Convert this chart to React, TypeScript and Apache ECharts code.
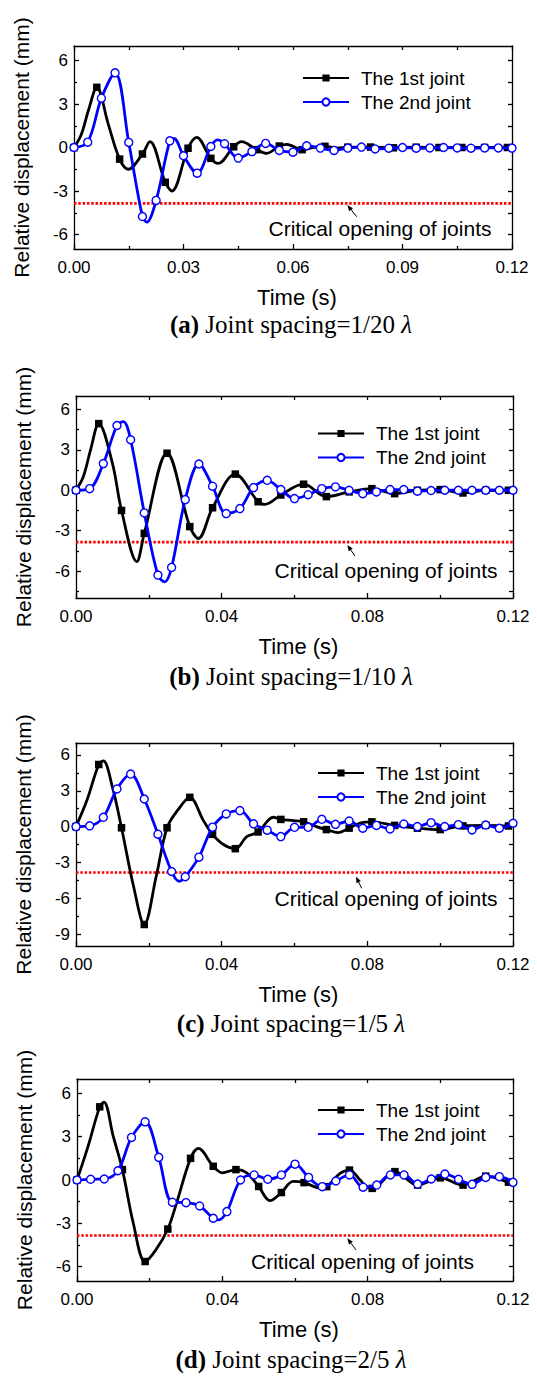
import React, { useEffect, useRef } from 'react';
import * as echarts from 'echarts';

const SANS = "'Liberation Sans', Arial, Helvetica, sans-serif";
const SERIF = "'Liberation Serif', 'Times New Roman', serif";

// ---- data: [time (ms), relative displacement (mm)] ----
// (a) Joint spacing = 1/20 lambda
const a1 = [[0,0],[2,0.9],[4,2.6],[6.25,4.15],[9.4,1.6],[12.5,-0.8],[14.9,-1.5],[18.75,-0.45],[20.8,0.4],[25,-2.4],[26.8,-3.0],[31.25,-0.05],[33.6,0.7],[37.5,-0.75],[39.5,-1.1],[43.75,0.05],[45.9,0.4],[50,-0.15],[52.8,-0.4],[56.25,0.1],[58.3,0.22],[62.5,-0.15],[65.5,0.0],[68.75,0.08],[72,-0.04],[75,0.02],[81.25,0.03],[87.5,-0.02],[93.75,0.02],[100,0],[106.25,0],[112.5,0],[118.75,0],[120,0]];
const a2 = [[0,0],[3.75,0.37],[7.5,3.4],[11.25,5.15],[15,0.35],[18.75,-4.76],[19.9,-5.15],[22.5,-3.65],[26.25,0.46],[27.4,0.62],[30,-0.57],[33.75,-1.77],[37.5,0.07],[39.3,0.52],[41.25,0.26],[45,-0.73],[48.75,-0.28],[52.5,0.28],[56.25,-0.2],[60,-0.32],[63.75,0.12],[67.5,-0.04],[71.25,-0.2],[75,-0.04],[78.75,0.03],[82.5,-0.1],[86.25,-0.05],[90,0],[93.75,-0.05],[97.5,-0.03],[101.25,0],[105,-0.03],[108.75,-0.05],[112.5,-0.03],[116.25,-0.03],[120,-0.04]];
// (b) Joint spacing = 1/10 lambda
const b1 = [[0,0],[2,1.0],[4,3.0],[6.25,4.95],[10,2.0],[12.5,-1.5],[16.7,-5.3],[18.75,-3.2],[25,2.75],[31.25,-2.7],[33.6,-3.58],[37.5,-1.3],[43.75,1.2],[50,-0.85],[51.9,-1.05],[56.25,-0.35],[62.5,0.45],[68.75,-0.47],[75,-0.12],[81.25,0.12],[87.5,-0.25],[93.75,0],[100,0.05],[106.25,-0.2],[112.5,0],[118.75,0],[120,0]];
const b2 = [[0,0],[3.75,0.12],[7.5,1.98],[11.25,4.81],[13,5.1],[15,3.75],[18.75,-1.68],[22.5,-6.3],[24.4,-6.8],[26.25,-5.73],[30,-0.69],[33.75,1.95],[37.5,0.3],[41.25,-1.73],[45,-1.36],[48.75,0.2],[52.5,0.74],[56.25,0.05],[60,-0.62],[63.75,-0.33],[67.5,0.12],[71.25,0.25],[75,0],[78.75,-0.25],[82.5,-0.12],[86.25,0.05],[90,0.05],[93.75,-0.07],[97.5,-0.02],[101.25,0],[105,0],[108.75,0],[112.5,0],[116.25,0],[120,0]];
// (c) Joint spacing = 1/5 lambda
const c1 = [[0,0],[3,2.2],[6.25,5.2],[7.5,5.5],[10,3.3],[12.5,-0.1],[15.8,-5.0],[18.75,-8.2],[22,-4.2],[25,-0.1],[28,1.4],[31.25,2.45],[35,0.5],[37.5,-0.65],[40.5,-1.5],[43.75,-1.85],[46.9,-0.84],[50,-0.45],[54.2,0.78],[56.25,0.6],[59.7,0.5],[62.5,0.4],[66,0],[68.75,-0.25],[72,-0.5],[75,-0.13],[78,0.3],[81.25,0.4],[87.5,0.1],[93.75,-0.13],[100,-0.25],[106.25,0.06],[112.5,0.1],[118.75,0.05],[120,0.1]];
const c2 = [[0,0],[3.75,0.06],[7.5,0.78],[11.25,3.15],[15,4.4],[18.75,2.31],[22.5,-0.64],[26.25,-3.76],[28.4,-4.59],[30,-4.2],[33.75,-2.56],[37.5,-0.05],[41.25,1.06],[45,1.34],[48.75,0.23],[52.5,-0.3],[56.25,-0.84],[60,-0.06],[63.75,-0.06],[67.5,0.61],[71.25,0.19],[75,0.47],[78.75,-0.14],[82.5,0.1],[86.25,-0.2],[90,0.22],[93.75,0],[97.5,0.33],[101.25,0],[105,0.16],[108.75,-0.28],[112.5,0.13],[116.25,-0.14],[120,0.28]];
// (d) Joint spacing = 2/5 lambda
const d1 = [[0,0],[3,2.3],[6.25,5.07],[7.4,5.4],[10,3.0],[12.5,0.72],[15.5,-3.0],[18.75,-5.65],[21.7,-4.84],[25,-3.4],[27.4,-1.6],[31.25,1.5],[33.4,2.19],[37.5,0.95],[40,0.5],[43.75,0.72],[46.7,0.5],[50,-0.45],[53.1,-1.43],[56.25,-0.87],[59.5,-0.1],[62.5,-0.18],[66.9,-0.55],[68.75,-0.46],[72.4,0.46],[75,0.69],[77.9,0],[79.7,-0.46],[81.25,-0.58],[87.5,0.58],[93.75,-0.35],[100,0.15],[106.25,-0.35],[112.5,0.27],[118.75,-0.15],[120,-0.2]];
const d2 = [[0,0],[3.75,0.05],[7.5,0.07],[11.25,0.64],[15,2.95],[18.75,4.03],[22.5,1.57],[26.25,-1.54],[30,-1.57],[33.75,-1.8],[37.5,-2.65],[39,-2.76],[41.25,-2.19],[45,0],[48.75,0.35],[52.5,0.05],[56.25,0.35],[60,1.1],[63.75,0.18],[67.5,-0.46],[71.25,-0.07],[75,0.35],[78.75,-0.5],[82.5,-0.35],[86.25,0.35],[90,0.35],[93.75,-0.28],[97.5,0.07],[101.25,0.41],[105,0.05],[108.75,-0.3],[112.5,0.18],[116.25,0.23],[120,-0.16]];

const joint1 = [a1, b1, c1, d1];
const joint2 = [a2, b2, c2, d2];
const seriesNames = ['The 1st joint', 'The 2nd joint'];
const markerStep1 = 6.25; // ms
const markerStep2 = 3.75; // ms
const criticalOpening = -3.85;
const criticalLabel = 'Critical opening of joints';
const xName = 'Time (s)';
const yName = 'Relative displacement (mm)';
const captionTags = ['(a)', '(b)', '(c)', '(d)'];
const captionTexts = ['Joint spacing=1/20', 'Joint spacing=1/10', 'Joint spacing=1/5', 'Joint spacing=2/5'];
const yMins = [-7, -8, -10, -7];
const yMax = 7;
const yMajors = [[-6, -3, 0, 3, 6], [-6, -3, 0, 3, 6], [-9, -6, -3, 0, 3, 6], [-6, -3, 0, 3, 6]];
const yMinors = [[-4.5, -1.5, 1.5, 4.5], [-7.5, -4.5, -1.5, 1.5, 4.5], [-7.5, -4.5, -1.5, 1.5, 4.5], [-4.5, -1.5, 1.5, 4.5]];
const xMajors = [[0, 0.03, 0.06, 0.09, 0.12], [0, 0.04, 0.08, 0.12], [0, 0.04, 0.08, 0.12], [0, 0.04, 0.08, 0.12]];
const xMinors = [[0.015, 0.045, 0.075, 0.105], [0.02, 0.06, 0.1], [0.02, 0.06, 0.1], [0.02, 0.06, 0.1]];
const xMax = 0.12;

// ---- layout (pixels) ----
const LAYOUT = [
  { left: 74, top: 46, width: 438, height: 203, legendLeft: 302, legendTop: 68.5, critX: 380, critY: 228, arrow: [356.7, 216.7, 347.3, 205], capY: 324 },
  { left: 76, top: 396, width: 437, height: 202, legendLeft: 317, legendTop: 424, critX: 386, critY: 570, arrow: [355, 556, 347.3, 545], capY: 676 },
  { left: 76, top: 743, width: 437, height: 203, legendLeft: 317, legendTop: 763.5, critX: 386, critY: 898, arrow: [361.7, 888.3, 356, 876.7], capY: 1023 },
  { left: 77, top: 1079, width: 436, height: 202, legendLeft: 317, legendTop: 1100.5, critX: 362.5, critY: 1261.5, arrow: [356, 1250, 347.3, 1238.3], capY: 1359 },
];

const AX = { color: '#000', width: 1.3 };

function buildData(pts: number[][], step: number, sym: string) {
  return pts.map(([t, y]) => {
    const r = t / step;
    const mk = Math.abs(r - Math.round(r)) < 1e-6;
    return { value: [t / 1000, y], symbol: mk ? sym : 'none' };
  });
}

function buildOption() {
  const grid: any[] = [];
  const xAxis: any[] = [];
  const yAxis: any[] = [];
  const series: any[] = [];
  const legend: any[] = [];
  const graphic: any[] = [];

  LAYOUT.forEach((L, g) => {
    grid.push({ left: L.left, top: L.top, width: L.width, height: L.height, containLabel: false });
    const xb = { type: 'value', gridIndex: g, min: 0, max: xMax, splitLine: { show: false } };
    xAxis.push(
      {
        ...xb, position: 'bottom',
        name: xName, nameLocation: 'middle', nameGap: 37,
        nameTextStyle: { fontFamily: SANS, fontSize: 22, color: '#000', padding: [0, 0, 0, 8] },
        axisLine: { show: true, onZero: false, lineStyle: AX },
        axisTick: { show: true, inside: true, length: 5, customValues: xMajors[g], lineStyle: AX },
        axisLabel: { show: true, customValues: xMajors[g], formatter: (v: number) => v.toFixed(2), margin: 10, fontFamily: SANS, fontSize: 17, color: '#000' },
      },
      {
        ...xb, position: 'bottom',
        axisLine: { show: false, onZero: false },
        axisTick: { show: true, inside: true, length: 3, customValues: xMinors[g], lineStyle: AX },
        axisLabel: { show: false },
      },
      {
        ...xb, position: 'top',
        axisLine: { show: true, onZero: false, lineStyle: AX },
        axisTick: { show: true, inside: true, length: 4, customValues: [...xMajors[g], ...xMinors[g]], lineStyle: AX },
        axisLabel: { show: false },
      }
    );
    const yb = { type: 'value', gridIndex: g, min: yMins[g], max: yMax, splitLine: { show: false } };
    yAxis.push(
      {
        ...yb, position: 'left',
        name: yName, nameLocation: 'middle', nameGap: 42, nameRotate: 90,
        nameTextStyle: { fontFamily: SANS, fontSize: 21, color: '#000' },
        axisLine: { show: true, onZero: false, lineStyle: AX },
        axisTick: { show: true, inside: true, length: 5, customValues: yMajors[g], lineStyle: AX },
        axisLabel: { show: true, customValues: yMajors[g], margin: 6, fontFamily: SANS, fontSize: 17, color: '#000' },
      },
      {
        ...yb, position: 'left',
        axisLine: { show: false, onZero: false },
        axisTick: { show: true, inside: true, length: 3, customValues: yMinors[g], lineStyle: AX },
        axisLabel: { show: false },
      },
      {
        ...yb, position: 'right',
        axisLine: { show: true, onZero: false, lineStyle: AX },
        axisTick: { show: true, inside: true, length: 4, customValues: [...yMajors[g], ...yMinors[g]], lineStyle: AX },
        axisLabel: { show: false },
      }
    );
    const xi = g * 3;
    const yi = g * 3;
    series.push(
      {
        type: 'line', name: criticalLabel, xAxisIndex: xi, yAxisIndex: yi,
        data: [[0, criticalOpening], [xMax, criticalOpening]],
        symbol: 'none', silent: true, z: 1,
        lineStyle: { color: '#ff0000', width: 2.6, type: [2.5, 1.8] },
      },
      {
        type: 'line', name: seriesNames[0], xAxisIndex: xi, yAxisIndex: yi,
        data: buildData(joint1[g], markerStep1, 'rect'),
        smooth: 0.35, symbol: 'rect', symbolSize: 7.5, z: 3,
        lineStyle: { color: '#000', width: 2.8 },
        itemStyle: { color: '#000' },
      },
      {
        type: 'line', name: seriesNames[1], xAxisIndex: xi, yAxisIndex: yi,
        data: buildData(joint2[g], markerStep2, 'circle'),
        smooth: 0.35, symbol: 'circle', symbolSize: 8, z: 4,
        lineStyle: { color: '#0000ff', width: 2.8 },
        itemStyle: { color: '#ffffff', borderColor: '#0000ff', borderWidth: 1.4 },
      }
    );
    legend.push({
      left: L.legendLeft, top: L.legendTop, orient: 'vertical', padding: 0, itemGap: 5,
      itemWidth: 46, itemHeight: 9, selectedMode: false,
      data: seriesNames,
      textStyle: { fontFamily: SANS, fontSize: 19, color: '#000', padding: [0, 0, 0, 7] },
    });
    graphic.push({
      type: 'text', x: L.critX, y: L.critY, silent: true,
      style: { text: criticalLabel, fontFamily: SANS, fontSize: 21, fill: '#000', align: 'center', verticalAlign: 'middle' },
    });
    const [x1, y1, x2, y2] = L.arrow;
    const dx = x2 - x1, dy = y2 - y1;
    const len = Math.hypot(dx, dy);
    const ux = dx / len, uy = dy / len;
    const hl = 6, hw = 2.4;
    graphic.push(
      { type: 'line', silent: true, shape: { x1, y1, x2: x2 - ux * 3, y2: y2 - uy * 3 }, style: { stroke: '#000', lineWidth: 1 } },
      {
        type: 'polygon', silent: true,
        shape: { points: [[x2, y2], [x2 - ux * hl - uy * hw, y2 - uy * hl + ux * hw], [x2 - ux * hl + uy * hw, y2 - uy * hl - ux * hw]] },
        style: { fill: '#000' },
      }
    );
    graphic.push({
      type: 'text', x: 291, y: L.capY, silent: true,
      style: {
        text: `{b|${captionTags[g]}} ${captionTexts[g]} {l|λ}`,
        fontFamily: SERIF, fontSize: 25, fill: '#000', align: 'center', verticalAlign: 'middle',
        rich: {
          b: { fontFamily: SERIF, fontSize: 25, fontWeight: 'bold', fill: '#000' },
          l: { fontFamily: SERIF, fontSize: 25, fontStyle: 'italic', fill: '#000' },
        },
      },
    });
  });

  return {
    animation: false,
    backgroundColor: '#ffffff',
    grid, xAxis, yAxis, series, legend, graphic,
  };
}

export default function App() {
  const ref = useRef<HTMLDivElement>(null);
  useEffect(() => {
    if (!ref.current) return;
    const chart = echarts.init(ref.current, null, { renderer: 'svg' });
    chart.setOption(buildOption() as any);
    return () => chart.dispose();
  }, []);
  return <div ref={ref} style={{ position: 'absolute', left: 0, top: 0, width: 537, height: 1378, background: '#fff' }} />;
}
